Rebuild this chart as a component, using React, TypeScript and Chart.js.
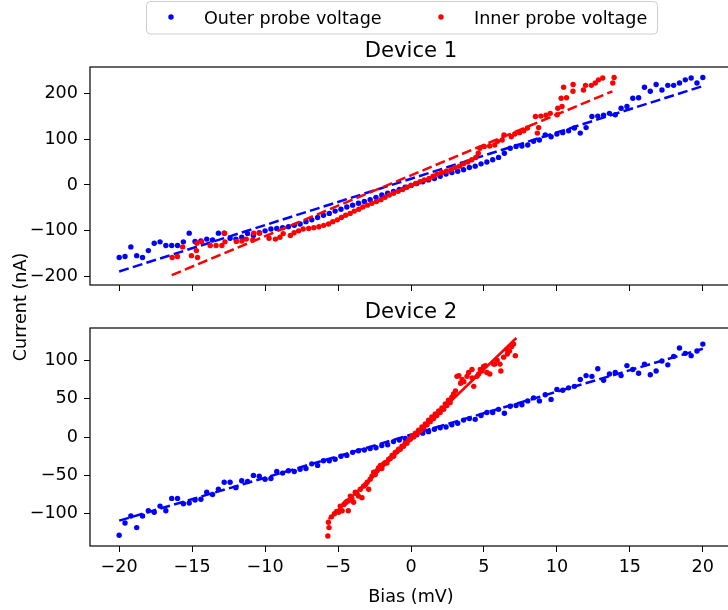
import React, { useEffect, useRef } from "react";
import { Chart, registerables } from "chart.js";

Chart.register(...registerables);

// ---------- data ----------
const xTicks = [-20, -15, -10, -5, 0, 5, 10, 15, 20];
const device1YTicks = [-200, -100, 0, 100, 200];
const device2YTicks = [-100, -50, 0, 50, 100];

const seriesLabels = ["Outer probe voltage", "Inner probe voltage"];
const panelTitles = ["Device 1", "Device 2"];
const xAxisLabel = "Bias (mV)";
const yAxisLabel = "Current (nA)";

// bias sweep (mV) used for the outer probe
const biasSweep = [
  -20, -19.6, -19.2, -18.8, -18.4, -18, -17.6, -17.2, -16.8, -16.4,
  -16, -15.6, -15.2, -14.8, -14.4, -14, -13.6, -13.2, -12.8, -12.4,
  -12, -11.6, -11.2, -10.8, -10.4, -10, -9.6, -9.2, -8.8, -8.4,
  -8, -7.6, -7.2, -6.8, -6.4, -6, -5.6, -5.2, -4.8, -4.4,
  -4, -3.6, -3.2, -2.8, -2.4, -2, -1.6, -1.2, -0.8, -0.4,
  0, 0.4, 0.8, 1.2, 1.6, 2, 2.4, 2.8, 3.2, 3.6,
  4, 4.4, 4.8, 5.2, 5.6, 6, 6.4, 6.8, 7.2, 7.6,
  8, 8.4, 8.8, 9.2, 9.6, 10, 10.4, 10.8, 11.2, 11.6,
  12, 12.4, 12.8, 13.2, 13.6, 14, 14.4, 14.8, 15.2, 15.6,
  16, 16.4, 16.8, 17.2, 17.6, 18, 18.4, 18.8, 19.2, 19.6,
  20,
];

// Device 1
const d1Current = [
  -158, -156, -135, -154, -158, -143, -127, -124, -132, -132,
  -132, -124, -105, -123, -122, -118, -120, -105, -105, -116,
  -118, -114, -106, -110, -104, -100, -96, -95, -93, -91,
  -88, -85, -80, -76, -71, -66, -62, -57, -53, -48,
  -44, -40, -36, -32, -27, -22, -18, -14, -10, -5,
  -1, 3, 7, 11, 14, 19, 24, 27, 30, 33,
  38, 41, 46, 50, 55, 60, 69, 80, 84, 85,
  87, 95, 98, 109, 105, 111, 114, 118, 124, 113,
  125, 149, 150, 152, 156, 153, 167, 171, 189, 190,
  213, 204, 219, 207, 217, 217, 222, 229, 233, 222,
  234,
];
const d1InnerBias = [
  -16.37, -16.01, -15.65, -15.05, -14.63, -14.71, -14.68, -14.35, -13.76, -13.36,
  -12.96, -12.75, -12.78, -11.97, -11.59, -11.29, -10.84, -10.78, -10.38, -9.73,
  -9.29, -8.98, -8.76, -8.27, -8.01, -7.7, -7.39, -7.01, -6.66, -6.31,
  -5.98, -5.65, -5.36, -5.05, -4.77, -4.48, -4.17, -3.89, -3.58, -3.3,
  -2.99, -2.68, -2.37, -2.06, -1.78, -1.49, -1.19, -0.88, -0.57, -0.28,
  0.02, 0.32, 0.62, 0.91, 1.24, 1.51, 1.78, 2.1, 2.42, 2.74,
  3.01, 3.33, 3.6, 3.9, 4.17, 4.44, 4.61, 4.72, 5.02, 5.39,
  5.74, 5.93, 6.25, 6.37, 6.87, 7.11, 7.44, 7.73, 7.98, 8.66,
  8.75, 8.53, 8.9, 9.25, 9.54, 10.02, 10.06, 10.35, 10.29, 10.66,
  10.46, 11.1, 11.11, 11.82, 11.96, 12.36, 12.63, 12.85, 13.14, 13.83,
  13.92,
];
const d1InnerCurrent = d1Current;
const d1OuterFitX = [-20, 20];
const d1OuterFitY = [-188.5, 215.5];
const d1InnerFitX = [-16.4, 13.8];
const d1InnerFitY = [-196.5, 204];

// Device 2
const d2Current = [
  -128, -112, -103, -118, -103, -96, -98, -90, -96, -80,
  -80, -87, -86, -82, -81, -72, -75, -68, -59, -59,
  -66, -57, -58, -50, -51, -55, -54, -45, -47, -44,
  -45, -42, -41, -35, -37, -31, -31, -29, -25, -24,
  -20, -18, -17, -15, -14, -11, -10, -6, -4, -2,
  0, 3, 5, 7, 10, 12, 13, 16, 18, 22,
  24, 23, 28, 32, 32, 36, 31, 40, 41, 42,
  47, 51, 47, 55, 49, 62, 61, 64, 66, 75,
  80, 79, 89, 74, 82, 84, 80, 93, 88, 83,
  95, 81, 86, 99, 94, 105, 116, 109, 106, 112,
  121,
];
const d2InnerBias = [
  -5.7, -5.62, -5.66, -5.45, -5.25, -5.1, -4.96, -4.85, -4.72, -4.6,
  -4.5, -4.4, -4.3, -4.28, -4.16, -4.05, -3.93, -3.82, -3.7, -3.6,
  -3.47, -3.36, -3.25, -3.12, -3.0, -2.9, -2.8, -2.68, -2.56, -2.45,
  -2.33, -2.22, -2.1, -2.0, -1.88, -1.76, -1.65, -1.53, -1.42, -1.3,
  -1.19, -1.08, -0.96, -0.85, -0.74, -0.62, -0.51, -0.4, -0.28, -0.16,
  -0.05, 0.07, 0.18, 0.3, 0.41, 0.52, 0.64, 0.75, 0.87, 0.98,
  1.1, 1.2, 1.32, 1.43, 1.55, 1.66, 1.77, 1.9, 2.0, 2.12,
  2.24, 2.35, 2.46, 2.57, 2.68, 2.8, 2.92, 3.05, 3.15, 3.28,
  3.4, 3.5, 3.62, 3.84, 3.95, 4.18, 4.2, 4.3, 4.52, 4.64,
  4.75, 4.85, 4.98, 5.1, 5.2, 5.4, 5.66, 5.75, 5.9, 6.1,
  6.16, 6.35, 6.57, 6.6, 6.75, 6.9, 7.03, 7.15,
];
const d2InnerCurrent = [
  -129, -118, -111, -104, -100, -97, -98, -90, -96, -88,
  -86, -84, -96, -83, -77, -80, -85, -72, -74, -77,
  -68, -79, -64, -62, -59, -68, -55, -51, -46, -49,
  -44, -40, -37, -41, -35, -33, -34, -29, -28, -24,
  -25, -20, -19, -16, -16, -12, -12, -8, -8, -4,
  -3, 1, 0, 5, 4, 9, 8, 13, 12, 17,
  16, 22, 20, 26, 24, 30, 28, 34, 32, 38,
  36, 43, 41, 48, 45, 52, 56, 60, 79, 80,
  70, 75, 72, 79, 84, 88, 77, 66, 79, 82,
  88, 86, 92, 93, 84, 82, 95, 95, 100, 95,
  86, 104, 114, 108, 112, 118, 121, 106,
];
const d2OuterFitX = [-20, 20];
const d2OuterFitY = [-109, 115];
const d2InnerFitX = [-5.65, 7.22];
const d2InnerFitY = [-107, 129];

// axis limits
const xLimits = [-22, 22];
const device1YLimits = [-218, 257];
const device2YLimits = [-142, 142];

// ---------- styling / layout ----------
const FONT = "'DejaVu Sans', 'Liberation Sans', sans-serif";
const TEXT_SIZE = 17.6;
const TITLE_SIZE = 21.2;
const BLUE = "#0000ff";
const RED = "#ff0000";
const CANVAS_W = 740;
const CANVAS_H = 610;
const AREA_LEFT = 90;
const AREA_RIGHT = 732;
const TOP_AREA = { top: 67, bottom: 285 };
const BOTTOM_AREA = { top: 328, bottom: 546 };

const fmt = (v: number) => (v < 0 ? "\u2212" + Math.abs(v) : String(v));
const pts = (xs: number[], ys: number[]) => xs.map((x, i) => ({ x, y: ys[i] }));

const framePlugin = {
  id: "frame",
  afterDatasetsDraw(chart: any) {
    const { ctx, chartArea: a } = chart;
    ctx.save();
    ctx.strokeStyle = "#000";
    ctx.lineWidth = 1.2;
    ctx.strokeRect(a.left, a.top, a.right - a.left, a.bottom - a.top);
    ctx.restore();
  },
};

function pointSet(label: string, xs: number[], ys: number[], color: string, order: number) {
  return {
    label,
    data: pts(xs, ys),
    showLine: false,
    pointRadius: 2.7,
    pointBackgroundColor: color,
    pointBorderWidth: 0,
    backgroundColor: color,
    borderColor: color,
    order,
  };
}

function lineSet(xs: number[], ys: number[], color: string, dashed: boolean, order: number) {
  return {
    label: "fit",
    data: pts(xs, ys),
    showLine: true,
    pointRadius: 0,
    borderColor: color,
    borderWidth: 2.5,
    borderDash: dashed ? [10, 4.3] : [],
    fill: false,
    order,
  };
}

function buildConfig(opts: {
  area: { top: number; bottom: number };
  yLimits: number[];
  yTicks: number[];
  showXLabels: boolean;
  datasets: any[];
  textPlugin: any;
}) {
  const { area, yLimits, yTicks, showXLabels, datasets, textPlugin } = opts;
  return {
    type: "scatter" as const,
    data: { datasets },
    options: {
      responsive: false,
      maintainAspectRatio: false,
      animation: false as const,
      events: [],
      layout: { padding: { left: 0, right: CANVAS_W - AREA_RIGHT, top: area.top, bottom: 0 } },
      plugins: {
        legend: { display: false },
        title: { display: false },
        tooltip: { enabled: false },
      },
      scales: {
        x: {
          type: "linear" as const,
          position: "bottom" as const,
          min: xLimits[0],
          max: xLimits[1],
          afterBuildTicks: (s: any) => {
            s.ticks = xTicks.map((v) => ({ value: v }));
          },
          afterFit: (s: any) => {
            s.height = CANVAS_H - area.bottom;
          },
          grid: { drawOnChartArea: false, drawTicks: true, tickLength: 6, color: "#000", lineWidth: 1 },
          border: { display: false },
          ticks: {
            display: showXLabels,
            autoSkip: false,
            maxRotation: 0,
            padding: 5,
            color: "#000",
            font: { family: FONT, size: TEXT_SIZE },
            callback: (v: any) => fmt(Number(v)),
          },
        },
        y: {
          type: "linear" as const,
          position: "left" as const,
          min: yLimits[0],
          max: yLimits[1],
          afterBuildTicks: (s: any) => {
            s.ticks = yTicks.map((v) => ({ value: v }));
          },
          afterFit: (s: any) => {
            s.width = AREA_LEFT;
          },
          grid: { drawOnChartArea: false, drawTicks: true, tickLength: 6, color: "#000", lineWidth: 1 },
          border: { display: false },
          ticks: {
            autoSkip: false,
            padding: 6,
            color: "#000",
            font: { family: FONT, size: TEXT_SIZE },
            callback: (v: any) => fmt(Number(v)),
          },
        },
      },
    },
    plugins: [framePlugin, textPlugin],
  };
}

const topTextPlugin = {
  id: "topText",
  afterDraw(chart: any) {
    const ctx = chart.ctx as CanvasRenderingContext2D;
    const cx = (chart.chartArea.left + chart.chartArea.right) / 2;
    ctx.save();
    ctx.fillStyle = "#000";
    ctx.font = `${TITLE_SIZE}px ${FONT}`;
    ctx.textAlign = "center";
    ctx.textBaseline = "alphabetic";
    ctx.fillText(panelTitles[0], cx, 57.3);
    ctx.beginPath();
    (ctx as any).roundRect(146.5, 1.5, 511, 32.5, 4);
    ctx.fillStyle = "rgba(255,255,255,0.8)";
    ctx.fill();
    ctx.strokeStyle = "#cccccc";
    ctx.lineWidth = 1;
    ctx.stroke();
    const entries = [
      { color: BLUE, dotX: 171, textX: 204, label: seriesLabels[0] },
      { color: RED, dotX: 441, textX: 474, label: seriesLabels[1] },
    ];
    ctx.font = `${TEXT_SIZE}px ${FONT}`;
    ctx.textAlign = "left";
    for (const e of entries) {
      ctx.beginPath();
      ctx.arc(e.dotX, 17, 2.7, 0, Math.PI * 2);
      ctx.fillStyle = e.color;
      ctx.fill();
      ctx.fillStyle = "#000";
      ctx.fillText(e.label, e.textX, 23.6);
    }
    ctx.restore();
  },
};

const bottomTextPlugin = {
  id: "bottomText",
  afterDraw(chart: any) {
    const ctx = chart.ctx as CanvasRenderingContext2D;
    const cx = (chart.chartArea.left + chart.chartArea.right) / 2;
    ctx.save();
    ctx.fillStyle = "#000";
    ctx.font = `${TITLE_SIZE}px ${FONT}`;
    ctx.textAlign = "center";
    ctx.textBaseline = "alphabetic";
    ctx.fillText(panelTitles[1], cx, 318);
    ctx.font = `${TEXT_SIZE}px ${FONT}`;
    ctx.fillText(xAxisLabel, cx, 601.5);
    ctx.translate(26, 307);
    ctx.rotate(-Math.PI / 2);
    ctx.fillText(yAxisLabel, 0, 0);
    ctx.restore();
  },
};

export default function App() {
  const topRef = useRef<HTMLCanvasElement>(null);
  const bottomRef = useRef<HTMLCanvasElement>(null);

  useEffect(() => {
    const topCfg = buildConfig({
      area: TOP_AREA,
      yLimits: device1YLimits,
      yTicks: device1YTicks,
      showXLabels: false,
      textPlugin: topTextPlugin,
      datasets: [
        lineSet(d1InnerFitX, d1InnerFitY, RED, true, 1),
        pointSet(seriesLabels[1], d1InnerBias, d1InnerCurrent, RED, 2),
        lineSet(d1OuterFitX, d1OuterFitY, BLUE, true, 3),
        pointSet(seriesLabels[0], biasSweep, d1Current, BLUE, 4),
      ],
    });
    const bottomCfg = buildConfig({
      area: BOTTOM_AREA,
      yLimits: device2YLimits,
      yTicks: device2YTicks,
      showXLabels: true,
      textPlugin: bottomTextPlugin,
      datasets: [
        lineSet(d2InnerFitX, d2InnerFitY, RED, false, 1),
        pointSet(seriesLabels[1], d2InnerBias, d2InnerCurrent, RED, 2),
        lineSet(d2OuterFitX, d2OuterFitY, BLUE, true, 3),
        pointSet(seriesLabels[0], biasSweep, d2Current, BLUE, 4),
      ],
    });
    const c1 = new Chart(topRef.current as HTMLCanvasElement, topCfg as any);
    const c2 = new Chart(bottomRef.current as HTMLCanvasElement, bottomCfg as any);
    return () => {
      c1.destroy();
      c2.destroy();
    };
  }, []);

  const canvasStyle: React.CSSProperties = {
    position: "absolute",
    left: 0,
    top: 0,
    width: CANVAS_W,
    height: CANVAS_H,
  };

  return (
    <div
      style={{
        position: "absolute",
        left: 0,
        top: 0,
        width: 728,
        height: 610,
        overflow: "hidden",
        background: "#fff",
      }}
    >
      <canvas ref={topRef} width={CANVAS_W} height={CANVAS_H} style={canvasStyle} />
      <canvas ref={bottomRef} width={CANVAS_W} height={CANVAS_H} style={canvasStyle} />
    </div>
  );
}
